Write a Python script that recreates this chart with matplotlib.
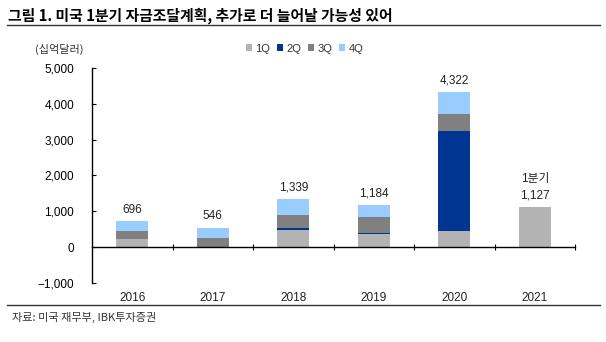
import numpy as np
import matplotlib.pyplot as plt

plt.rcParams['font.family'] = ['Liberation Sans', 'Noto Sans CJK KR', 'DejaVu Sans']

# 미국 재무부 분기별 자금조달 (십억달러)
years = ['2016', '2017', '2018', '2019', '2020', '2021']
q1 = [225, 5, 466, 360, 458, 1127]
q2 = [-30, 10, 60, 30, 2783, 0]
q3 = [230, 250, 377, 450, 483, 0]
q4 = [271, 281, 436, 344, 598, 0]
totals = [696, 546, 1339, 1184, 4322, 1127]

series = [('1Q', q1, '#b3b3b3'), ('2Q', q2, '#003591'),
          ('3Q', q3, '#808080'), ('4Q', q4, '#99ccff')]

fig = plt.figure(figsize=(6.06, 3.42), dpi=100)
ax = fig.add_axes([0.152, 0.1725, 0.797, 0.6287])

x = np.arange(len(years))
pos_base = np.zeros(len(years))
neg_base = np.zeros(len(years))
for name, vals, col in series:
    v = np.array(vals, dtype=float)
    bottom = np.where(v >= 0, pos_base, neg_base)
    ax.bar(x, v, width=0.4, bottom=bottom, color=col, label=name, zorder=2)
    pos_base += np.where(v >= 0, v, 0)
    neg_base += np.where(v < 0, v, 0)

for i, t in enumerate(totals):
    top = pos_base[i]
    txt = '{:,}'.format(t)
    if years[i] == '2021':
        txt = '1분기\n' + txt
    ax.text(x[i], top + 150, txt, ha='center', va='bottom', fontsize=8.5,
            color='#222222', linespacing=1.45)

ax.set_xlim(-0.5, len(years) - 0.5)
ax.set_ylim(-1000, 5000)
ax.set_yticks(np.arange(-1000, 5001, 1000))
ax.set_yticklabels(['{:,}'.format(v).replace('-', '\u2212') for v in range(-1000, 5001, 1000)])
ax.tick_params(axis='y', direction='in', length=3, pad=13, labelsize=8.5)

for s in ['top', 'right']:
    ax.spines[s].set_visible(False)
ax.spines['left'].set_linewidth(1)
ax.spines['bottom'].set_position(('data', 0))
ax.spines['bottom'].set_linewidth(1)
ax.set_xticks(np.arange(0.5, len(years), 1))
ax.set_xticklabels([])
ax.tick_params(axis='x', direction='inout', length=4)

for i, y in enumerate(years):
    ax.text(x[i], -1250, y, ha='center', va='top', fontsize=8.5, color='#222222')

ax.legend(loc='upper center', bbox_to_anchor=(0.44, 1.16), ncol=4, frameon=False,
          fontsize=8, handlelength=0.55, handleheight=0.55, handletextpad=0.3,
          columnspacing=0.6, labelcolor='#333333')

fig.text(0.058, 0.845, '(십억달러)', fontsize=8, color='#333333',
         family=['Noto Sans CJK KR', 'DejaVu Sans'])
fig.text(0.013, 0.955, '그림 1. 미국 1분기 자금조달계획, 추가로 더 늘어날 가능성 있어',
         fontsize=10.7, fontweight='bold', va='center',
         family=['Noto Sans CJK KR', 'DejaVu Sans'])
fig.add_artist(plt.Line2D([0.012, 0.99], [0.928, 0.928], color='#333333', lw=1))
fig.add_artist(plt.Line2D([0.012, 0.99], [0.108, 0.108], color='#333333', lw=1))
fig.text(0.02, 0.073, '자료: 미국 재무부, IBK투자증권', fontsize=8, va='center',
         color='#333333', family=['Noto Sans CJK KR', 'DejaVu Sans'])

fig.savefig('out.png', dpi=100)
